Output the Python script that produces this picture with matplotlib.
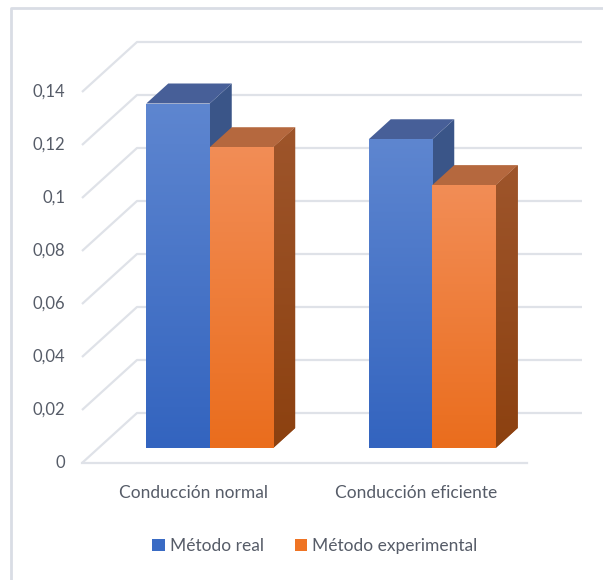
import matplotlib
matplotlib.use("Agg")
import matplotlib.pyplot as plt
import numpy as np
from matplotlib.colors import LinearSegmentedColormap
from matplotlib.patches import Polygon, Patch
from matplotlib.lines import Line2D

categories = ["Conducción normal", "Conducción eficiente"]
series_names = ["Método real", "Método experimental"]
real = [0.130, 0.1165]
experimental = [0.1135, 0.0992]
ticks = [0, 0.02, 0.04, 0.06, 0.08, 0.1, 0.12, 0.14]
tick_labels = ["0", "0,02", "0,04", "0,06", "0,08", "0,1", "0,12", "0,14"]

plt.rcParams['font.family'] = ['Lato', 'DejaVu Sans']
txt_color = '#565c68'
grid_color = '#dfe2e8'

# colours: front gradient (top, bottom), top face, side face
styles = [
    dict(front=('#5e86d0', '#3364bf'), top='#475f98', side='#3a5588', legend='#3a6bc4'),
    dict(front=('#f28d56', '#ea6d1d'), top='#b5683e', side=('#9e552b', '#8c4110'), legend='#ef7424'),
]

fig = plt.figure(figsize=(6.03, 5.80), dpi=100)
ax = fig.add_axes((0, 0, 1, 1))
ax.set_axis_off()

# pseudo 3d: full depth offset in data units
DX = 55 / 222.5
DY = 50 / 2650
d0, d1 = 0.3, 0.7           # bar front / back depth
w = 63.5 / 222.5            # bar width
ncat = len(categories)

# back wall gridlines + left side wall diagonals
for t in ticks:
    ax.plot([0, DX, ncat + DX], [t, t + DY, t + DY], color=grid_color, lw=1.6,
            solid_capstyle='butt', zorder=1)
ax.plot([0, ncat], [0, 0], color=grid_color, lw=1.6, zorder=1)

for t, lab in zip(ticks, tick_labels):
    ax.text(-0.075, t, lab, ha='right', va='center', fontsize=12, color=txt_color)

for i, cat in enumerate(categories):
    ax.text(i + 0.5, -0.0113, cat, ha='center', va='center', fontsize=12.5, color=txt_color)

z = 5
for i in range(ncat):
    for s, vals in enumerate([real, experimental]):
        st = styles[s]
        v = vals[i]
        x0 = i + 0.5 - w + s * w + d0 * DX
        x1 = x0 + w
        ddx = (d1 - d0) * DX
        ddy = (d1 - d0) * DY
        yb = d0 * DY
        # side face
        side = st['side']
        side_poly = Polygon([(x1, yb), (x1, yb + v), (x1 + ddx, yb + v + ddy), (x1 + ddx, yb + ddy)],
                            closed=True, facecolor=side if isinstance(side, str) else side[0],
                            edgecolor='none', zorder=z)
        ax.add_patch(side_poly)
        if not isinstance(side, str):
            cm = LinearSegmentedColormap.from_list('s', [side[1], side[0]])
            im = ax.imshow(np.linspace(0, 1, 256).reshape(-1, 1), cmap=cm, origin='lower',
                           extent=[x1, x1 + ddx, yb, yb + v + ddy], aspect='auto', zorder=z)
            im.set_clip_path(side_poly)
        # top face
        ax.add_patch(Polygon([(x0, yb + v), (x1, yb + v), (x1 + ddx, yb + v + ddy), (x0 + ddx, yb + v + ddy)],
                             closed=True, facecolor=st['top'], edgecolor='none', zorder=z + 1))
        # front face with vertical gradient
        bar = ax.bar(x0, v, width=w, bottom=yb, align='edge', color=st['legend'],
                     edgecolor='none', zorder=z + 2)[0]
        cm = LinearSegmentedColormap.from_list('f', [st['front'][1], st['front'][0]])
        im = ax.imshow(np.linspace(0, 1, 256).reshape(-1, 1), cmap=cm, origin='lower',
                       extent=[x0, x1, yb, yb + v], aspect='auto', zorder=z + 3)
        im.set_clip_path(bar)
        z += 4

ax.set_xlim(-82 / 222.5, (603 - 82) / 222.5)
ax.set_ylim(-117 / 2650, 463 / 2650)

handles = [Patch(facecolor=styles[k]['legend'], edgecolor='none', label=series_names[k]) for k in range(2)]
fig.legend(handles=handles, loc='center', bbox_to_anchor=(315 / 603, 1 - 546 / 580), ncol=2,
           frameon=False, fontsize=12.5, labelcolor=txt_color, handlelength=0.7, handleheight=0.7,
           handletextpad=0.3, columnspacing=1.8)

# chart border (left + top visible)
fig.add_artist(Line2D([11 / 603, 11 / 603, 1], [0, 1 - 8 / 580, 1 - 8 / 580], color='#d9dde5', lw=2,
                      transform=fig.transFigure))

fig.savefig('out.png', dpi=100)
